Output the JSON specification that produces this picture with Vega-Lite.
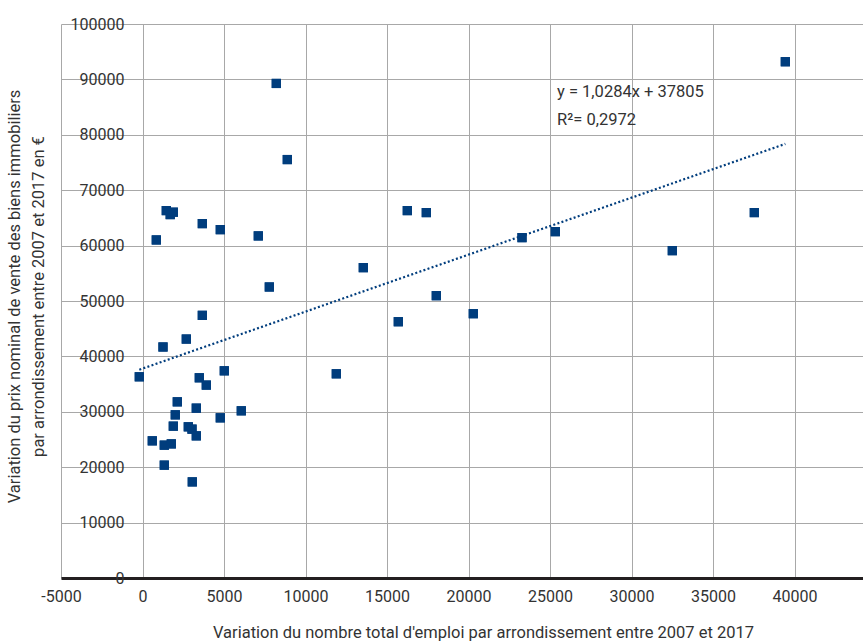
{
  "$schema": "https://vega.github.io/schema/vega-lite/v6.json",
  "width": 802,
  "height": 554,
  "autosize": "none",
  "padding": {"left": 61, "top": 24, "right": 0, "bottom": 66},
  "background": "white",
  "config": {
    "view": {"stroke": null},
    "font": "Roboto"
  },
  "datasets": {
    "points": [
      {"emploi": -196, "prix": 36320},
      {"emploi": 601, "prix": 24760},
      {"emploi": 847, "prix": 61020},
      {"emploi": 1258, "prix": 41700},
      {"emploi": 1337, "prix": 20370},
      {"emploi": 1337, "prix": 23980},
      {"emploi": 1460, "prix": 66320},
      {"emploi": 1700, "prix": 65600},
      {"emploi": 1767, "prix": 24210},
      {"emploi": 1890, "prix": 66030},
      {"emploi": 1890, "prix": 27410},
      {"emploi": 2012, "prix": 29450},
      {"emploi": 2135, "prix": 31800},
      {"emploi": 2687, "prix": 43130},
      {"emploi": 2810, "prix": 27290},
      {"emploi": 3037, "prix": 26870},
      {"emploi": 3055, "prix": 17350},
      {"emploi": 3300, "prix": 30660},
      {"emploi": 3300, "prix": 25660},
      {"emploi": 3485, "prix": 36140},
      {"emploi": 3670, "prix": 63970},
      {"emploi": 3670, "prix": 47410},
      {"emploi": 3914, "prix": 34820},
      {"emploi": 4773, "prix": 28910},
      {"emploi": 4773, "prix": 62880},
      {"emploi": 5018, "prix": 37400},
      {"emploi": 6061, "prix": 30180},
      {"emploi": 7104, "prix": 61750},
      {"emploi": 7780, "prix": 52530},
      {"emploi": 8208, "prix": 89270},
      {"emploi": 8883, "prix": 75530},
      {"emploi": 11890, "prix": 36860},
      {"emploi": 13546, "prix": 56020},
      {"emploi": 15693, "prix": 46260},
      {"emploi": 16246, "prix": 66320},
      {"emploi": 17411, "prix": 65960},
      {"emploi": 18024, "prix": 50960},
      {"emploi": 20294, "prix": 47710},
      {"emploi": 23282, "prix": 61440},
      {"emploi": 25325, "prix": 62520},
      {"emploi": 32503, "prix": 59090},
      {"emploi": 37534, "prix": 65960},
      {"emploi": 39436, "prix": 93190}
    ],
    "trend": [
      {"emploi": -196, "prix": 37603},
      {"emploi": 39436, "prix": 78360}
    ],
    "labels": [
      {"emploi": 25430, "prix": 87770, "txt": "y = 1,0284x + 37805"},
      {"emploi": 25430, "prix": 82700, "txt": "R²= 0,2972"}
    ]
  },
  "layer": [
    {
      "data": {"name": "points"},
      "mark": {"type": "point", "shape": "square", "filled": true, "color": "#003d7d", "size": 85, "opacity": 1},
      "encoding": {
        "x": {
          "field": "emploi", "type": "quantitative",
          "scale": {"domain": [-5000, 44200], "nice": false, "zero": false},
          "axis": {
            "values": [-5000, 0, 5000, 10000, 15000, 20000, 25000, 30000, 35000, 40000],
            "labelExpr": "'' + datum.value",
            "grid": true, "gridColor": "#a8a8a8", "gridWidth": 1,
            "domain": true, "domainColor": "#231f20", "domainWidth": 3,
            "ticks": false, "tickSize": 0,
            "labelFontSize": 16, "labelColor": "#333333", "labelPadding": 10,
            "labelFlush": false, "labelOverlap": false,
            "title": "Variation du nombre total d'emploi par arrondissement entre 2007 et 2017",
            "titleFontSize": 16.5, "titleFontWeight": "normal", "titleColor": "#333333",
            "titleX": 422, "titleY": 54, "titleAlign": "center", "titleBaseline": "middle"
          }
        },
        "y": {
          "field": "prix", "type": "quantitative",
          "scale": {"domain": [0, 100000], "nice": false},
          "axis": {
            "values": [0, 10000, 20000, 30000, 40000, 50000, 60000, 70000, 80000, 90000, 100000],
            "labelExpr": "'' + datum.value",
            "grid": true, "gridColor": "#a8a8a8", "gridWidth": 1,
            "domain": false,
            "ticks": false, "tickSize": 0,
            "labelFontSize": 16, "labelColor": "#333333", "labelPadding": -63,
            "labelAlign": "right", "labelBaseline": "middle",
            "labelFlush": false, "labelOverlap": false,
            "title": ["Variation du prix nominal de vente des biens immobiliers", "par arrondissement entre 2007 et 2017 en €"],
            "titleFontSize": 16.5, "titleFontWeight": "normal", "titleColor": "#333333",
            "titleAngle": -90, "titleX": -47, "titleY": 272, "titleAlign": "center",
            "titleBaseline": "middle", "titleLineHeight": 24
          }
        }
      }
    },
    {
      "mark": {"type": "rule", "color": "#231f20", "strokeWidth": 2.5},
      "encoding": {"x": {"datum": 0, "type": "quantitative"}}
    },
    {
      "data": {"name": "trend"},
      "mark": {"type": "line", "color": "#003d7d", "strokeWidth": 2.2, "strokeDash": [2, 2.3], "strokeCap": "butt"},
      "encoding": {
        "x": {"field": "emploi", "type": "quantitative"},
        "y": {"field": "prix", "type": "quantitative"}
      }
    },
    {
      "data": {"name": "points"},
      "mark": {"type": "point", "shape": "square", "filled": true, "color": "#003d7d", "size": 85, "opacity": 1},
      "encoding": {
        "x": {"field": "emploi", "type": "quantitative"},
        "y": {"field": "prix", "type": "quantitative"}
      }
    },
    {
      "data": {"name": "labels"},
      "mark": {"type": "text", "align": "left", "baseline": "middle", "fontSize": 16.5, "color": "#333333"},
      "encoding": {
        "x": {"field": "emploi", "type": "quantitative"},
        "y": {"field": "prix", "type": "quantitative"},
        "text": {"field": "txt"}
      }
    }
  ]
}
